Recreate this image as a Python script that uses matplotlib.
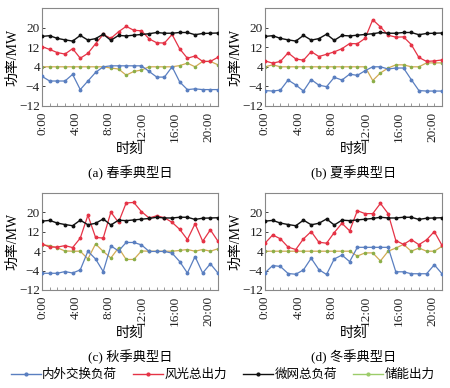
import numpy as np
import matplotlib
matplotlib.use('Agg')
import matplotlib.pyplot as plt
from matplotlib.lines import Line2D

plt.rcParams['font.family'] = ['Liberation Serif', 'Noto Sans CJK SC']
plt.rcParams['axes.unicode_minus'] = True

# 24 samples per day
idx = np.arange(24)
hour_labels = ['0:00', '4:00', '8:00', '12:00', '16:00', '20:00']
hour_ticks = [0, 4, 8, 12, 16, 20]

# micro-grid total load (same in all seasons)
load = [16.4, 16.7, 15.6, 15.0, 14.5, 16.8, 14.9, 15.5, 17.3, 14.8, 16.8, 16.6,
        16.9, 17.2, 17.5, 18.0, 17.7, 17.7, 18.0, 18.0, 17.1, 17.6, 17.7, 17.8]

# spring
spring_exch = [0.1, -1.8, -1.8, -1.8, 0.9, -5.3, -1.8, 1.7, 4.0, 4.4, 4.4, 4.4,
               4.4, 4.4, 2.1, -0.2, -0.2, 4.0, -2.2, -5.3, -5.0, -5.3, -5.3, -5.3]
spring_res = [12.2, 11.1, 9.8, 9.2, 11.4, 7.5, 9.5, 13.4, 17.2, 15.6, 18.3, 20.5,
              18.9, 18.7, 15.4, 13.8, 13.7, 17.2, 11.3, 7.5, 8.4, 6.2, 6.2, 7.9]
spring_ess = [4, 4, 4, 4, 4, 4, 4, 4, 4, 3.5, 3.1, 0.6,
              2.1, 2.7, 4, 4, 4, 4, 4.5, 5.5, 4, 6.2, 6.2, 4.8]

# summer
summer_exch = [-5.7, -5.9, -5.5, -1.4, -3.4, -5.9, -1.2, -3.5, -4.1, -0.3, -1.4, 1.0,
               0.5, 2.4, 4.0, 4.0, 3.1, 3.5, 3.5, -1.2, -5.7, -5.9, -5.9, -5.9]
summer_res = [6.4, 5.5, 6.2, 9.7, 7.2, 6.7, 10.2, 8.2, 9.1, 10.1, 11.4, 13.5,
              13.4, 15.6, 23.2, 20.3, 16.9, 16.1, 16.2, 13.1, 7.8, 6.2, 6.4, 6.8]
summer_ess = [4, 4.8, 4, 4, 4, 4, 4, 4, 4, 4, 4, 4,
              4, 4, -1.6, 1.5, 3.5, 4.8, 4.8, 4, 4, 5.6, 5.6, 5.6]

# autumn
autumn_exch = [-5.1, -5.1, -5.1, -4.4, -5.0, -3.7, 4.0, 0.8, -4.4, 6.2, 4.1, 7.6,
               7.6, 6.6, 3.9, 3.9, 3.9, 3.2, -0.3, -5.0, 1.8, -5.0, -1.2, -5.0]
autumn_res = [7.0, 5.7, 5.7, 6.3, 5.5, 9.4, 18.8, 9.7, 9.4, 20.1, 15.9, 23.9,
              24.1, 20.3, 17.7, 18.6, 17.8, 15.9, 13.0, 8.8, 15.3, 8.1, 12.8, 8.1]
autumn_ess = [6.6, 6.3, 5.4, 4.1, 4, 4, 0.8, 7.0, 3.9, 1.2, 5.4, 0.6,
              0.6, 4.1, 4, 4, 4, 4, 4.3, 4.7, 4, 4.7, 4, 5.0]

# winter
winter_exch = [-4.9, -1.9, -2.3, -5.2, -5.5, -3.7, 1.1, -3.6, -5.6, 0.8, 2.4, -0.3,
               5.6, 5.6, 5.6, 5.6, 5.6, -4.5, -4.5, -5.3, -5.3, -5.3, -1.6, -5.3]
winter_res = [7.3, 10.7, 9.1, 5.7, 4.7, 9.1, 12.1, 7.7, 7.3, 11.7, 15.5, 12.4,
              20.7, 19.5, 19.5, 23.7, 19.5, 8.4, 6.8, 8.8, 6.7, 8.7, 12.1, 6.4]
winter_ess = [4, 4, 4, 4, 4, 4, 4, 4, 4, 4, 4, 4,
              2.0, 3.3, 3.3, 0.0, 4, 5.3, 6.8, 4, 5.3, 4, 4, 6.0]

captions = ['(a) 春季典型日', '(b) 夏季典型日', '(c) 秋季典型日', '(d) 冬季典型日']
seasons = [
    (spring_exch, spring_res, spring_ess),
    (summer_exch, summer_res, summer_ess),
    (autumn_exch, autumn_res, autumn_ess),
    (winter_exch, winter_res, winter_ess),
]

c_exch = '#5a7fc0'
c_res = '#e53346'
c_load = '#111111'
c_ess_line = '#d2ab55'
c_ess_mk = '#8cae48'
c_ess_leg = '#9ccc6a'

W, H = 450, 388
fig = plt.figure(figsize=(W / 100, H / 100), dpi=100)

# axes boxes in pixels: left, right, top, bottom
boxes = [(42, 218, 8, 106), (265, 442, 8, 106),
         (42, 218, 193, 290), (265, 442, 193, 290)]

hscale = 23 / 21.15

for (l, r, t, b), (exch, res, ess), cap in zip(boxes, seasons, captions):
    ax = fig.add_axes([l / W, 1 - b / H, (r - l) / W, (b - t) / H])
    ax.plot(idx, ess, '-', color=c_ess_line, lw=0.9, marker='o', ms=1.6,
            mfc=c_ess_mk, mec=c_ess_mk, zorder=2)
    ax.plot(idx, exch, '-', color=c_exch, lw=0.9, marker='o', ms=1.8, zorder=3)
    ax.plot(idx, res, '-', color=c_res, lw=0.9, marker='o', ms=1.8, zorder=3)
    ax.plot(idx, load, '-', color=c_load, lw=1.0, marker='o', ms=1.8, zorder=4)

    ax.set_xlim(0, 23)
    ax.set_ylim(-12, 28)
    ax.set_yticks([-12, -4, 4, 12, 20])
    ax.set_xticks([h * hscale for h in hour_ticks])
    ax.set_xticklabels(hour_labels, rotation=90)
    ax.set_xticks(idx, minor=True)
    ax.tick_params(axis='both', which='both', direction='in', labelsize=9.5,
                   colors='#222222', length=2, width=0.6, pad=1.5)
    ax.tick_params(axis='x', which='major', length=0, pad=4)
    ax.tick_params(axis='x', which='minor', length=2, color='#888888')
    for sp in ax.spines.values():
        sp.set_color('#888888')
        sp.set_linewidth(0.8)
    ax.set_ylabel('功率/MW', fontsize=10, labelpad=0)
    ax.set_xlabel('时刻', fontsize=10, labelpad=1)
    fig.text((l + r) / 2 / W, 1 - (b + 67) / H, cap, ha='center', va='center',
             fontsize=9.5)

handles = [
    Line2D([], [], color=c_exch, lw=1, marker='o', ms=2),
    Line2D([], [], color=c_res, lw=1, marker='o', ms=2),
    Line2D([], [], color=c_load, lw=1, marker='o', ms=2),
    Line2D([], [], color=c_ess_leg, lw=1, marker='o', ms=2),
]
labels = ['内外交换负荷', '风光总出力', '微网总负荷', '储能出力']
fig.legend(handles, labels, loc='center', bbox_to_anchor=(0.495, 1 - 375 / H),
           ncol=4, frameon=False, fontsize=9, handlelength=2.4,
           handletextpad=0.1, columnspacing=1.3, borderaxespad=0)

fig.savefig('out.png', dpi=100)
